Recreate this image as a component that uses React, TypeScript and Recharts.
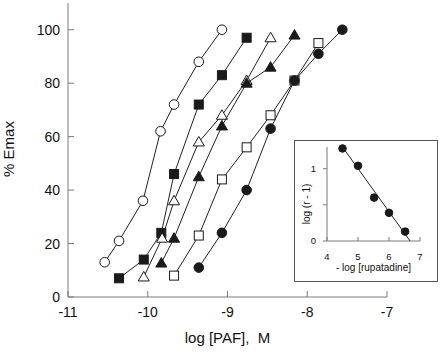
import { ScatterChart, Scatter, XAxis, YAxis, Label } from "recharts";

const FONT = "'Liberation Sans', Arial, Helvetica, sans-serif";
const AXIS = "#7a7a7a";
const INK = "#1a1a1a";

// main panel: log [PAF] (M) vs % Emax, one curve per rupatadine concentration
const openCircleX = [-10.54, -10.36, -10.06, -9.84, -9.67, -9.36, -9.07];
const openCircleY = [13, 21, 36, 62, 72, 88, 100];

const filledSquareX = [-10.36, -10.05, -9.83, -9.67, -9.36, -9.07, -8.76];
const filledSquareY = [7, 14, 24, 46, 72, 83, 97];

const openTriangleX = [-10.05, -9.82, -9.67, -9.36, -9.07, -8.76, -8.46];
const openTriangleY = [7.5, 22, 36, 58, 68, 81, 97];

const filledTriangleX = [-9.83, -9.67, -9.36, -9.07, -8.76, -8.46, -8.16];
const filledTriangleY = [12.7, 22, 45, 64, 80, 86, 98];

const openSquareX = [-9.67, -9.36, -9.07, -8.76, -8.46, -8.16, -7.86];
const openSquareY = [8, 23, 44, 56, 68, 81, 95];

const filledCircleX = [-9.36, -9.07, -8.76, -8.46, -8.16, -7.86, -7.56];
const filledCircleY = [11, 24, 40, 63, 81, 91, 100];

const xTicks = [-11, -10, -9, -8, -7];
const yTicks = [0, 20, 40, 60, 80, 100];

// inset: Schild plot
const schildX = [4.5, 5.0, 5.52, 6.0, 6.52];
const schildY = [1.28, 1.04, 0.6, 0.39, 0.13];
const fitX = [4.5, 6.68];
const fitY = [1.3, 0];

const insetXTicks = [4, 5, 6, 7];
const insetYTicks = [0, 0.5, 1];

const toPoints = (xs: number[], ys: number[]) => xs.map((x, i) => ({ x, y: ys[i] }));

const marker = (kind: "circle" | "square" | "triangle", filled: boolean, size = 4.8) =>
  (props: any) => {
    const { cx, cy } = props;
    const fill = filled ? INK : "#fff";
    if (kind === "circle") {
      return <circle cx={cx} cy={cy} r={size} fill={fill} stroke={INK} strokeWidth={1} />;
    }
    if (kind === "square") {
      return <rect x={cx - 4.5} y={cy - 4.5} width={9} height={9} fill={fill} stroke={INK} strokeWidth={1} />;
    }
    return (
      <polygon
        points={`${cx},${cy - 5.5} ${cx - 5.5},${cy + 4} ${cx + 5.5},${cy + 4}`}
        fill={fill}
        stroke={INK}
        strokeWidth={1}
      />
    );
  };

function MainXTick(props: any) {
  const { x, y, payload } = props;
  return (
    <g>
      <line x1={x} y1={y} x2={x} y2={y - 6} stroke={AXIS} />
      <text x={x} y={y + 10} dy="0.71em" textAnchor="middle" fontSize={14} fill="#111" fontFamily={FONT}>
        {payload.value}
      </text>
    </g>
  );
}

function MainYTick(props: any) {
  const { x, y, payload } = props;
  return (
    <g>
      <line x1={x} y1={y} x2={x + 6} y2={y} stroke={AXIS} />
      <text x={x - 8} y={y} dy="0.355em" textAnchor="end" fontSize={14} fill="#111" fontFamily={FONT}>
        {payload.value}
      </text>
    </g>
  );
}

function InsetXTick(props: any) {
  const { x, y, payload } = props;
  return (
    <g>
      <line x1={x} y1={y} x2={x} y2={y - 4} stroke={AXIS} />
      <text x={x} y={y + 12} dy="0.71em" textAnchor="middle" fontSize={9.5} fill="#111" fontFamily={FONT}>
        {payload.value}
      </text>
    </g>
  );
}

function InsetYTick(props: any) {
  const { x, y, payload } = props;
  return (
    <g>
      <line x1={x} y1={y} x2={x - 4} y2={y} stroke={AXIS} />
      {payload.value !== 0.5 && (
        <text x={x - 11} y={y} dy="0.355em" textAnchor="end" fontSize={9.5} fill="#111" fontFamily={FONT}>
          {payload.value}
        </text>
      )}
    </g>
  );
}

const lineStyle = { stroke: "#222", strokeWidth: 1 };

export default function App() {
  return (
    <div style={{ position: "absolute", left: 0, top: 0, width: 440, height: 354, background: "#fff" }}>
      <ScatterChart width={440} height={354} margin={{ top: 3, right: 53, bottom: 0, left: 0 }}>
        <XAxis
          type="number"
          dataKey="x"
          domain={[-11, -7]}
          ticks={xTicks}
          interval={0}
          height={57}
          stroke={AXIS}
          tickSize={0}
          tickMargin={0}
          tickLine={false}
          tick={<MainXTick />}
        >
          <Label
            content={({ viewBox }: any) => (
              <text
                x={viewBox.x + viewBox.width / 2}
                y={viewBox.y + 46}
                textAnchor="middle"
                fontSize={15}
                fill="#111"
                fontFamily={FONT}
                style={{ whiteSpace: "pre" }}
              >
                {"log [PAF],  M"}
              </text>
            )}
          />
        </XAxis>
        <YAxis
          type="number"
          dataKey="y"
          domain={[0, 110]}
          ticks={yTicks}
          interval={0}
          width={68}
          stroke={AXIS}
          tickSize={0}
          tickMargin={0}
          tickLine={false}
          tick={<MainYTick />}
        >
          <Label
            content={({ viewBox }: any) => {
              const cx = viewBox.x + 13.5;
              const cy = viewBox.y + viewBox.height / 2 - 1;
              return (
                <text
                  x={cx}
                  y={cy}
                  transform={`rotate(-90, ${cx}, ${cy})`}
                  textAnchor="middle"
                  fontSize={15}
                  fill="#111"
                  fontFamily={FONT}
                >
                  % Emax
                </text>
              );
            }}
          />
        </YAxis>
        <Scatter data={toPoints(openCircleX, openCircleY)} line={lineStyle} shape={marker("circle", false)} isAnimationActive={false} />
        <Scatter data={toPoints(filledSquareX, filledSquareY)} line={lineStyle} shape={marker("square", true)} isAnimationActive={false} />
        <Scatter data={toPoints(openTriangleX, openTriangleY)} line={lineStyle} shape={marker("triangle", false)} isAnimationActive={false} />
        <Scatter data={toPoints(filledTriangleX, filledTriangleY)} line={lineStyle} shape={marker("triangle", true)} isAnimationActive={false} />
        <Scatter data={toPoints(openSquareX, openSquareY)} line={lineStyle} shape={marker("square", false)} isAnimationActive={false} />
        <Scatter data={toPoints(filledCircleX, filledCircleY)} line={lineStyle} shape={marker("circle", true)} isAnimationActive={false} />
      </ScatterChart>

      <div
        style={{
          position: "absolute",
          left: 294,
          top: 140,
          width: 144,
          height: 142,
          boxSizing: "border-box",
          border: "1px solid #555",
          background: "#fff",
        }}
      >
        <ScatterChart width={142} height={140} margin={{ top: 6, right: 17, bottom: 0, left: 0 }}>
          <XAxis
            type="number"
            dataKey="x"
            domain={[4, 7]}
            ticks={insetXTicks}
            interval={0}
            height={40}
            stroke={AXIS}
            tickSize={0}
            tickMargin={0}
            tickLine={false}
            tick={<InsetXTick />}
          >
            <Label
              content={({ viewBox }: any) => (
                <text
                  x={viewBox.x + viewBox.width / 2}
                  y={viewBox.y + 30}
                  textAnchor="middle"
                  fontSize={10}
                  fill="#111"
                  fontFamily={FONT}
                >
                  - log [rupatadine]
                </text>
              )}
            />
          </XAxis>
          <YAxis
            type="number"
            dataKey="y"
            domain={[0, 1.3]}
            ticks={insetYTicks}
            interval={0}
            width={32}
            stroke={AXIS}
            tickSize={0}
            tickMargin={0}
            tickLine={false}
            tick={<InsetYTick />}
          >
            <Label
              content={({ viewBox }: any) => {
                const cx = viewBox.x + 14.5;
                const cy = viewBox.y + viewBox.height / 2 + 10;
                return (
                  <text
                    x={cx}
                    y={cy}
                    transform={`rotate(-90, ${cx}, ${cy})`}
                    textAnchor="middle"
                    fontSize={10}
                    fill="#111"
                    fontFamily={FONT}
                  >
                    log (r - 1)
                  </text>
                );
              }}
            />
          </YAxis>
          <Scatter data={toPoints(fitX, fitY)} line={lineStyle} shape={() => <g />} isAnimationActive={false} />
          <Scatter data={toPoints(schildX, schildY)} shape={marker("circle", true, 3.8)} isAnimationActive={false} />
        </ScatterChart>
      </div>
    </div>
  );
}
